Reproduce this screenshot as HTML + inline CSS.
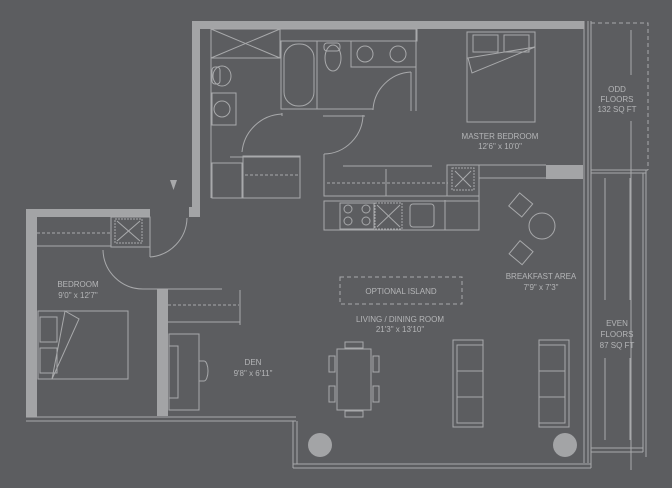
<!DOCTYPE html>
<html><head><style>
html,body{margin:0;padding:0;background:#5c5d60;}
svg{display:block;}
text{font-family:"Liberation Sans",sans-serif;font-size:8px;fill:#b4b5b7;text-anchor:middle;}
</style></head><body>
<svg width="672" height="488" viewBox="0 0 672 488" xmlns="http://www.w3.org/2000/svg">
<rect width="672" height="488" fill="#5c5d60"/>
<g fill="#a3a4a6">
 <!-- top wall -->
 <rect x="192" y="21" width="392" height="8"/>
 <rect x="192" y="21" width="8" height="196"/>
 <rect x="189" y="207" width="8" height="10"/>
 <!-- left bedroom walls -->
 <rect x="26" y="209" width="124" height="8"/>
 <rect x="26" y="209" width="11" height="208"/>
 <rect x="157" y="289" width="11" height="127"/>
 <rect x="546" y="165" width="37" height="14"/>
 <circle cx="320" cy="445" r="12"/>
 <circle cx="565" cy="445" r="12"/>
</g>
<g fill="none" stroke="#a8a9ab" stroke-width="1">
 <!-- right exterior double line -->
 <line x1="584" y1="21" x2="584" y2="463"/>
 <line x1="588" y1="21" x2="588" y2="463"/>
 <line x1="591" y1="21" x2="591" y2="468"/>
 <!-- odd balcony dashed -->
 <path d="M591 23 H648 V170" stroke-dasharray="4,3"/>
 <line x1="591" y1="170" x2="648" y2="170"/>
 <line x1="591" y1="173" x2="646" y2="173"/>
 <line x1="631" y1="30" x2="631" y2="75"/>
 <line x1="631" y1="121" x2="631" y2="470"/>
 <!-- even balcony -->
 <line x1="646" y1="170" x2="646" y2="457"/>
 <line x1="643" y1="173" x2="643" y2="452"/>
 <line x1="591" y1="448" x2="643" y2="448"/>
 <line x1="591" y1="452" x2="643" y2="452"/>
 <line x1="605" y1="178" x2="605" y2="300"/>
 <line x1="605" y1="358" x2="605" y2="440"/>
 <line x1="630" y1="358" x2="630" y2="440"/>
 <line x1="630" y1="178" x2="630" y2="300"/>
 <!-- bottom windows -->
 <line x1="26" y1="417" x2="296" y2="417"/>
 <line x1="26" y1="421" x2="296" y2="421"/>
 <line x1="293" y1="421" x2="293" y2="468"/>
 <line x1="297" y1="421" x2="297" y2="464"/>
 <line x1="293" y1="464" x2="591" y2="464"/>
 <line x1="293" y1="468" x2="591" y2="468"/>
 <!-- master bedroom bed -->
 <rect x="467" y="32" width="68" height="90"/>
 <rect x="473" y="35" width="25" height="17"/>
 <rect x="504" y="35" width="25" height="17"/>
 <path d="M468 58 L535 47 L472 73 Z"/>
 <!-- bath -->
 <rect x="280" y="29" width="137" height="12"/>
 <rect x="281" y="41" width="36" height="68"/>
 <rect x="284" y="44" width="30" height="62" rx="14"/>
 <ellipse cx="333" cy="58" rx="8" ry="13"/>
 <rect x="324" y="43" width="16" height="8" rx="3"/>
 <rect x="351" y="41" width="65" height="26"/>
 <circle cx="365" cy="54" r="8"/>
 <circle cx="398" cy="54" r="8"/>
 <line x1="416" y1="29" x2="416" y2="111"/>
 <line x1="411" y1="72" x2="411" y2="111"/>
 <path d="M411 72 A40 40 0 0 0 373 110"/>
 <line x1="281" y1="109" x2="373" y2="109"/>
 <!-- ensuite left bath -->
 <rect x="211" y="29" width="69" height="29"/>
 <path d="M211 29 L280 58 M280 29 L211 58"/>
 <line x1="211" y1="29" x2="211" y2="198"/>
 <ellipse cx="222" cy="76" rx="9" ry="10"/>
 <rect x="212" y="67" width="8" height="17" rx="3"/>
 <rect x="212" y="93" width="24" height="32"/>
 <circle cx="222" cy="109" r="8"/>
 <rect x="212" y="163" width="30" height="35"/>
 <rect x="243" y="156" width="57" height="42"/>
 <line x1="245" y1="175" x2="300" y2="175" stroke-dasharray="3,2"/>
 <line x1="230" y1="157" x2="300" y2="157"/>
 <path d="M242 152 A42 42 0 0 1 282 114"/>
 <line x1="282" y1="113" x2="282" y2="116"/>
 <path d="M324 154 A40 40 0 0 0 363 115"/>
 <line x1="323" y1="116" x2="365" y2="116"/>
 <!-- kitchen -->
 <path d="M324 154 V196 H448"/>
 <line x1="343" y1="166" x2="432" y2="166"/>
 <line x1="386" y1="169" x2="386" y2="196"/>
 <line x1="327" y1="183" x2="448" y2="183" stroke-dasharray="3,2"/>
 <rect x="447" y="165" width="32" height="31"/>
 <rect x="452" y="168" width="22" height="22" stroke-dasharray="2,1"/>
 <path d="M455 171 L471 187 M471 171 L455 187"/>
 <line x1="479" y1="165" x2="546" y2="165"/>
 <line x1="479" y1="178" x2="546" y2="178"/>
 <rect x="324" y="201" width="155" height="29"/>
 <rect x="340" y="203" width="34" height="26"/>
 <circle cx="348" cy="209" r="4"/><circle cx="366" cy="209" r="4"/>
 <circle cx="348" cy="221" r="4"/><circle cx="366" cy="221" r="4"/>
 <rect x="375" y="203" width="27" height="26" stroke-dasharray="2,1"/>
 <path d="M377 205 L400 227 M400 205 L377 227"/>
 <rect x="410" y="204" width="24" height="23" rx="3"/>
 <line x1="445" y1="200" x2="445" y2="230"/>
 <line x1="479" y1="178" x2="479" y2="230"/>
 <!-- breakfast -->
 <circle cx="542" cy="226" r="13"/>
 <rect x="512" y="196" width="17" height="17" transform="rotate(40 520 205)"/>
 <rect x="513" y="244" width="17" height="17" transform="rotate(40 521 252)"/>
 <!-- optional island -->
 <rect x="340" y="277" width="122" height="27" stroke-dasharray="4,3"/>
 <!-- dining -->
 <rect x="337" y="349" width="34" height="61"/>
 <rect x="345" y="342" width="18" height="6"/>
 <rect x="345" y="411" width="18" height="6"/>
 <rect x="329" y="356" width="6" height="16"/><rect x="329" y="386" width="6" height="16"/>
 <rect x="373" y="356" width="6" height="16"/><rect x="373" y="386" width="6" height="16"/>
 <!-- sofas -->
 <rect x="453" y="340" width="30" height="87"/>
 <rect x="457" y="345" width="26" height="78"/>
 <line x1="457" y1="371" x2="483" y2="371"/><line x1="457" y1="397" x2="483" y2="397"/>
 <rect x="539" y="340" width="30" height="87"/>
 <rect x="539" y="345" width="26" height="78"/>
 <line x1="539" y1="371" x2="565" y2="371"/><line x1="539" y1="397" x2="565" y2="397"/>
 <!-- bedroom -->
 <rect x="38" y="311" width="90" height="68"/>
 <rect x="40" y="317" width="17" height="25"/>
 <rect x="40" y="348" width="17" height="25"/>
 <path d="M52 379 L65 311 L79 319 Z"/>
 <rect x="111" y="217" width="39" height="30"/>
 <rect x="115" y="219" width="27" height="24" stroke-dasharray="2,1"/>
 <path d="M117 221 L140 241 M140 221 L117 241"/>
 <line x1="37" y1="233" x2="111" y2="233" stroke-dasharray="3,2"/>
 <line x1="37" y1="246" x2="111" y2="246"/>
 <line x1="150" y1="217" x2="150" y2="257"/>
 <path d="M150 257 A40 40 0 0 0 187 218"/>
 <path d="M103 250 A40 40 0 0 0 143 289"/>
 <line x1="143" y1="289" x2="222" y2="289"/>
 <!-- den closet -->
 <line x1="168" y1="305" x2="239" y2="305" stroke-dasharray="3,2"/>
 <line x1="168" y1="322" x2="240" y2="322"/>
 <line x1="240" y1="290" x2="240" y2="325"/>
 <rect x="169" y="334" width="30" height="76"/>
 <rect x="169" y="346" width="9" height="52"/>
 <path d="M199 361 h5 a4 10 0 0 1 0 20 h-5"/>
</g>
<text x="500" y="139">MASTER BEDROOM</text>
<text x="500" y="149">12'6" x 10'0"</text>
<text x="617" y="92">ODD</text>
<text x="617" y="102">FLOORS</text>
<text x="617" y="112">132 SQ FT</text>
<text x="617" y="326">EVEN</text>
<text x="617" y="337">FLOORS</text>
<text x="617" y="348">87 SQ FT</text>
<text x="541" y="279">BREAKFAST AREA</text>
<text x="541" y="290">7'9" x 7'3"</text>
<text x="401" y="294">OPTIONAL ISLAND</text>
<text x="400" y="322">LIVING / DINING ROOM</text>
<text x="400" y="332">21'3" x 13'10"</text>
<text x="78" y="287">BEDROOM</text>
<text x="78" y="298">9'0" x 12'7"</text>
<text x="253" y="365">DEN</text>
<text x="253" y="376">9'8" x 6'11"</text>
<path d="M170 180 L177 180 L173.5 190 Z" fill="#a8a9ab"/>
</svg>
</body></html>
